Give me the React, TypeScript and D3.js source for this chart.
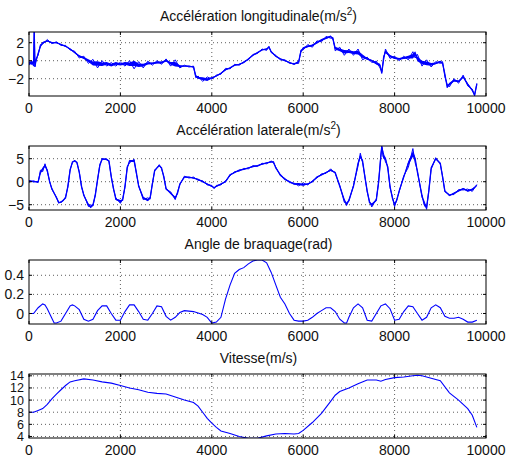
import React from 'react';
import * as d3 from 'd3';

// x axis is shared by the four subplots
const xTicks = [0, 2000, 4000, 6000, 8000, 10000];

// [sample, value, noise half-width]
const accelLong: [number, number, number][] = [
  [0, -0.2, 0.3], [50, -0.3, 0.3], [100, -0.2, 0.4], [115, 3.2, 0.1], [130, -0.6, 0.1],
  [150, -0.1, 0.3], [200, 0.8, 0.2], [250, 1.6, 0.2], [300, 2.0, 0.15], [400, 2.2, 0.15],
  [500, 2.0, 0.1], [600, 2.0, 0.1], [700, 1.8, 0.1], [800, 1.6, 0.1], [900, 1.3, 0.1],
  [1000, 0.9, 0.15], [1100, 0.5, 0.2], [1200, 0.3, 0.2], [1300, 0.0, 0.3], [1400, -0.3, 0.45],
  [1500, -0.3, 0.5], [1600, -0.4, 0.4], [1700, -0.3, 0.3], [1800, -0.5, 0.3], [1900, -0.3, 0.3],
  [2000, -0.4, 0.25], [2100, -0.3, 0.3], [2200, -0.4, 0.4], [2300, -0.3, 0.6], [2400, -0.5, 0.4],
  [2500, -0.5, 0.3], [2600, -0.3, 0.25], [2700, -0.3, 0.2], [2800, -0.2, 0.2], [2900, -0.2, 0.2],
  [3000, 0.0, 0.2], [3100, -0.3, 0.3], [3200, -0.4, 0.5], [3300, -0.6, 0.2], [3400, -0.6, 0.1],
  [3500, -0.6, 0.1], [3600, -0.7, 0.1], [3650, -1.7, 0.2], [3700, -1.9, 0.2], [3800, -2.0, 0.3],
  [3900, -2.1, 0.3], [4000, -1.9, 0.15], [4100, -1.7, 0.1], [4200, -1.4, 0.1], [4300, -1.0, 0.15],
  [4400, -0.8, 0.1], [4500, -0.5, 0.1], [4600, -0.4, 0.1], [4700, -0.2, 0.1], [4800, 0.2, 0.1],
  [4900, 0.6, 0.1], [5000, 0.9, 0.1], [5100, 1.2, 0.1], [5200, 1.3, 0.15], [5250, 1.5, 0.1],
  [5300, 1.0, 0.1], [5400, 0.5, 0.1], [5500, 0.2, 0.1], [5600, 0.0, 0.1], [5700, -0.2, 0.1],
  [5800, -0.4, 0.1], [5900, -0.1, 0.2], [5950, 1.0, 0.2], [6000, 1.4, 0.2], [6100, 1.6, 0.2],
  [6200, 1.7, 0.2], [6300, 2.0, 0.2], [6400, 2.3, 0.2], [6500, 2.5, 0.2], [6600, 2.7, 0.2],
  [6650, 2.4, 0.2], [6700, 1.4, 0.3], [6800, 1.2, 0.3], [6900, 1.0, 0.4], [7000, 1.0, 0.3],
  [7100, 0.9, 0.3], [7200, 0.9, 0.4], [7300, 0.5, 0.4], [7400, 0.2, 0.2], [7500, 0.0, 0.2],
  [7600, -0.3, 0.25], [7680, -0.5, 0.3], [7720, -1.4, 0.2], [7760, 0.4, 0.3], [7800, 1.0, 0.3],
  [7900, 0.5, 0.25], [8000, 0.3, 0.2], [8100, 0.2, 0.2], [8200, 0.3, 0.2], [8300, 0.4, 0.3],
  [8400, 0.5, 0.5], [8450, 0.8, 0.5], [8500, 0.2, 0.5], [8600, -0.2, 0.4], [8700, -0.3, 0.4],
  [8800, -0.4, 0.3], [8900, -0.3, 0.2], [9000, -0.1, 0.2], [9050, -0.3, 0.2], [9100, -1.5, 0.3],
  [9150, -2.9, 0.3], [9200, -2.6, 0.3], [9300, -2.2, 0.2], [9400, -2.3, 0.2], [9500, -1.8, 0.2],
  [9600, -2.6, 0.2], [9700, -3.3, 0.15], [9750, -3.8, 0.1], [9800, -2.6, 0.1],
];

const accelLat: [number, number, number][] = [
  [0, 0.2, 0.3], [100, 0.0, 0.2], [200, 0.0, 0.2], [250, 2.0, 0.5], [300, 2.8, 0.6],
  [350, 3.5, 0.4], [400, 2.5, 0.3], [450, 0.0, 0.2], [500, -1.5, 0.2], [600, -3.5, 0.2],
  [650, -4.5, 0.2], [700, -4.5, 0.2], [750, -4.0, 0.2], [800, -3.5, 0.2], [850, -1.0, 0.2],
  [900, 2.5, 0.2], [950, 4.3, 0.2], [1000, 4.5, 0.2], [1050, 4.2, 0.2], [1100, 2.0, 0.2],
  [1150, -1.0, 0.2], [1200, -3.0, 0.2], [1300, -5.0, 0.4], [1350, -5.5, 0.5], [1400, -5.0, 0.3],
  [1450, -3.0, 0.2], [1500, 0.5, 0.2], [1550, 3.5, 0.3], [1600, 5.0, 0.2], [1700, 4.8, 0.2],
  [1750, 4.5, 0.2], [1800, 1.0, 0.2], [1850, -1.5, 0.2], [1900, -3.8, 0.3], [2000, -4.2, 0.5],
  [2050, -4.0, 0.3], [2100, -1.0, 0.2], [2150, 3.0, 0.3], [2200, 4.5, 0.4], [2300, 4.5, 0.4],
  [2350, 2.0, 0.3], [2400, -1.0, 0.2], [2500, -3.5, 0.4], [2600, -4.0, 0.5], [2650, -3.5, 0.3],
  [2700, -0.5, 0.2], [2750, 2.5, 0.2], [2850, 3.5, 0.2], [2900, 3.0, 0.2], [2950, 1.0, 0.2],
  [3000, -1.5, 0.2], [3100, -2.5, 0.3], [3200, -3.5, 0.4], [3250, -2.5, 0.3], [3300, -0.5, 0.2],
  [3400, 1.0, 0.2], [3500, 1.0, 0.2], [3600, 0.8, 0.2], [3700, 0.5, 0.2], [3800, 0.0, 0.2],
  [3900, -0.5, 0.2], [4000, -1.0, 0.2], [4050, -1.3, 0.2], [4100, -1.0, 0.2], [4200, -0.5, 0.2],
  [4300, 0.0, 0.2], [4400, 1.5, 0.2], [4500, 2.0, 0.2], [4600, 2.5, 0.2], [4700, 2.7, 0.2],
  [4800, 3.0, 0.2], [4900, 3.3, 0.2], [5000, 3.5, 0.2], [5100, 3.8, 0.2], [5200, 4.1, 0.2],
  [5300, 4.3, 0.2], [5350, 4.3, 0.2], [5400, 3.0, 0.2], [5500, 1.5, 0.2], [5600, 0.5, 0.2],
  [5700, 0.0, 0.2], [5800, -0.5, 0.2], [5900, -0.5, 0.4], [6000, -0.7, 0.4], [6100, -0.5, 0.2],
  [6200, 0.0, 0.2], [6300, 1.0, 0.2], [6400, 1.5, 0.2], [6500, 2.0, 0.2], [6600, 2.5, 0.3],
  [6700, 2.0, 0.2], [6800, -1.0, 0.2], [6900, -4.0, 0.5], [6950, -5.0, 0.5], [7000, -4.0, 0.3],
  [7100, -1.0, 0.2], [7200, 4.0, 0.6], [7250, 5.5, 0.7], [7300, 4.5, 0.4], [7350, 1.0, 0.2],
  [7400, -2.0, 0.2], [7450, -4.5, 0.3], [7500, -5.0, 0.5], [7600, -4.0, 0.3], [7650, 0.0, 0.3],
  [7700, 5.5, 0.5], [7720, 7.8, 0.3], [7750, 5.5, 0.9], [7800, 5.0, 0.7], [7850, 3.0, 0.4],
  [7900, -1.0, 0.3], [7950, -3.5, 0.3], [8000, -5.0, 0.4], [8050, -4.0, 0.3], [8100, -2.0, 0.2],
  [8200, 1.0, 0.3], [8300, 4.0, 0.9], [8400, 6.0, 1.2], [8450, 5.0, 0.9], [8500, 2.0, 0.4],
  [8600, -3.0, 0.4], [8650, -5.0, 0.7], [8700, -5.5, 0.5], [8750, -2.0, 0.3], [8800, 3.0, 0.3],
  [8900, 5.0, 0.2], [9000, 4.0, 0.2], [9050, 1.0, 0.2], [9100, -2.0, 0.2], [9200, -3.0, 0.2],
  [9300, -2.5, 0.3], [9400, -2.0, 0.3], [9500, -1.5, 0.3], [9600, -2.0, 0.4], [9700, -1.7, 0.4],
  [9800, -0.8, 0.2],
];

const steering: [number, number][] = [
  [0, 0.0], [100, 0.0], [200, 0.06], [300, 0.1], [350, 0.09], [400, 0.05], [500, -0.05],
  [550, -0.1], [600, -0.1], [700, -0.08], [800, 0.0], [900, 0.08], [950, 0.09], [1000, 0.08],
  [1100, 0.04], [1200, -0.06], [1300, -0.08], [1400, -0.06], [1500, 0.03], [1600, 0.08],
  [1700, 0.08], [1800, 0.0], [1900, -0.07], [2000, -0.07], [2100, 0.02], [2200, 0.09],
  [2300, 0.09], [2400, 0.02], [2500, -0.06], [2600, -0.07], [2700, 0.0], [2800, 0.08],
  [2900, 0.07], [3000, -0.03], [3100, -0.07], [3200, -0.04], [3300, 0.01], [3400, 0.03],
  [3600, 0.02], [3800, -0.01], [3900, -0.04], [4000, -0.1], [4100, -0.09], [4200, -0.04],
  [4300, 0.15], [4400, 0.3], [4500, 0.42], [4600, 0.46], [4700, 0.48], [4800, 0.52],
  [4900, 0.55], [5000, 0.56], [5100, 0.56], [5200, 0.53], [5300, 0.43], [5400, 0.3],
  [5500, 0.17], [5600, 0.1], [5700, 0.0], [5800, -0.07], [5900, -0.08], [6000, -0.08],
  [6100, -0.07], [6200, -0.04], [6300, 0.0], [6400, 0.03], [6500, 0.06], [6600, 0.06],
  [6700, 0.02], [6800, -0.06], [6900, -0.1], [6950, -0.1], [7000, -0.04], [7100, 0.06],
  [7200, 0.1], [7300, 0.06], [7400, -0.07], [7500, -0.08], [7600, 0.0], [7700, 0.08],
  [7800, 0.1], [7900, 0.05], [8000, -0.07], [8100, -0.06], [8200, 0.02], [8300, 0.08],
  [8400, 0.07], [8500, 0.0], [8600, -0.07], [8700, -0.04], [8800, 0.06], [8900, 0.09],
  [9000, 0.06], [9100, -0.03], [9200, -0.05], [9300, -0.05], [9400, -0.04], [9500, -0.06],
  [9600, -0.09], [9700, -0.09], [9800, -0.07],
];

const speed: [number, number][] = [
  [0, 8.0], [100, 8.0], [200, 8.3], [300, 8.6], [400, 9.3], [500, 10.2], [600, 11.0],
  [700, 11.7], [800, 12.4], [900, 13.0], [1000, 13.2], [1200, 13.5], [1400, 13.3],
  [1600, 13.0], [1800, 12.8], [2000, 12.4], [2200, 12.0], [2400, 11.7], [2600, 11.3],
  [2800, 11.1], [3000, 11.0], [3200, 10.5], [3400, 10.0], [3600, 9.6], [3700, 9.0],
  [3800, 8.0], [3900, 7.0], [4000, 6.2], [4100, 5.5], [4200, 4.9], [4400, 4.5], [4600, 4.0],
  [4800, 3.7], [5000, 3.7], [5200, 4.1], [5400, 4.4], [5600, 4.5], [5800, 4.4], [5900, 4.5],
  [6000, 5.0], [6200, 6.3], [6400, 7.8], [6600, 9.8], [6700, 10.8], [6800, 11.4], [7000, 12.0],
  [7200, 12.7], [7400, 13.3], [7600, 13.3], [7700, 13.1], [7800, 13.4], [8000, 13.7],
  [8200, 13.8], [8400, 14.0], [8500, 14.1], [8600, 14.0], [8800, 13.6], [9000, 13.2],
  [9200, 11.2], [9400, 10.0], [9600, 8.6], [9700, 7.5], [9800, 5.5],
];

const titles = ['Accélération longitudinale(m/s', 'Accélération laterale(m/s', 'Angle de braquage(rad)', 'Vitesse(m/s)'];
const yTickSets = [[-2, 0, 2], [-5, 0, 5], [0, 0.2, 0.4], [4, 6, 8, 10, 12, 14]];
const yDomains: [number, number][] = [[-3.92, 3.19], [-6.15, 7.76], [-0.11, 0.56], [3.75, 14.3]];

const left = 29, right = 486, plotH = 64;
const tops = [32, 146, 260, 374];
const font = '"Liberation Sans", Arial, Helvetica, sans-serif';
const fmt = (v: number) => String(v).replace('-', '\u2212');

function Panel({ idx, trace, noisy }: { idx: number; trace: number[][]; noisy: boolean }) {
  const top = tops[idx];
  const bottom = top + plotH;
  const x = d3.scaleLinear().domain([0, 10000]).range([left, right]);
  const y = d3.scaleLinear().domain(yDomains[idx]).range([bottom, top]);
  const line = d3.line<number[]>().x(d => x(d[0])).y(d => y(d[1]));
  const band = d3.area<number[]>().x(d => x(d[0])).y0(d => y(d[1] - d[2] * 0.5)).y1(d => y(d[1] + d[2] * 0.5));
  // the noisy traces swing between the read upper/lower envelope at each sample
  const jag = d3.line<number[]>().x(d => x(d[0])).y((d, i) => y(d[1] + (i % 2 ? d[2] : -d[2])));
  const clip = 'clip' + idx;
  const sup = idx < 2;
  const tickSize = idx === 3 ? 12.5 : 14;
  return (
    <g>
      <defs>
        <clipPath id={clip}><rect x={left} y={top} width={right - left} height={plotH} /></clipPath>
      </defs>
      <text x={(left + right) / 2 + 1} y={top - 11} textAnchor="middle" fontSize={14} fill="#111">
        {titles[idx]}
        {sup && <tspan dy={-6} fontSize={10}>2</tspan>}
        {sup && <tspan dy={6}>)</tspan>}
      </text>
      {/* dotted grid */}
      {xTicks.slice(1, -1).map(t => (
        <line key={'gx' + t} x1={x(t)} x2={x(t)} y1={top} y2={bottom} stroke="#333" strokeWidth={0.8} strokeDasharray="1 3" />
      ))}
      {yTickSets[idx].map(t => (
        <line key={'gy' + t} x1={left} x2={right} y1={y(t)} y2={y(t)} stroke="#333" strokeWidth={0.8} strokeDasharray="1 3" />
      ))}
      <g clipPath={`url(#${clip})`}>
        {noisy && <path d={band(trace) || ''} fill="#0000ff" />}
        {noisy && <path d={jag(trace) || ''} fill="none" stroke="#0000ff" strokeWidth={1} />}
        <path d={line(trace) || ''} fill="none" stroke="#0000ff" strokeWidth={noisy ? 1.3 : 1.1} />
      </g>
      {/* inward ticks on all sides */}
      {xTicks.map(t => (
        <g key={'tx' + t}>
          <line x1={x(t)} x2={x(t)} y1={bottom} y2={bottom - 3} stroke="#000" />
          <line x1={x(t)} x2={x(t)} y1={top} y2={top + 3} stroke="#000" />
          <text x={x(t)} y={bottom + 17} textAnchor="middle" fontSize={14} fill="#111">{t}</text>
        </g>
      ))}
      {yTickSets[idx].map(t => (
        <g key={'ty' + t}>
          <line x1={left} x2={left + 3} y1={y(t)} y2={y(t)} stroke="#000" />
          <line x1={right} x2={right - 3} y1={y(t)} y2={y(t)} stroke="#000" />
          <text x={24} y={y(t)} dy="0.36em" textAnchor="end" fontSize={tickSize} fill="#111">{fmt(t)}</text>
        </g>
      ))}
      <rect x={left} y={top} width={right - left} height={plotH} fill="none" stroke="#000" strokeWidth={1} />
    </g>
  );
}

export default function App() {
  return (
    <svg width={509} height={464} style={{ position: 'fixed', left: 0, top: 0, background: '#fff', fontFamily: font }}>
      <rect width={509} height={464} fill="#fff" />
      <Panel idx={0} trace={accelLong} noisy />
      <Panel idx={1} trace={accelLat} noisy />
      <Panel idx={2} trace={steering} noisy={false} />
      <Panel idx={3} trace={speed} noisy={false} />
    </svg>
  );
}
